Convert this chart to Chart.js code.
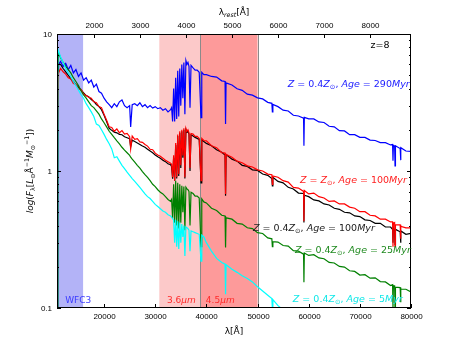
<!DOCTYPE html>
<html>
<head>
<meta charset="utf-8">
<script src="https://cdn.jsdelivr.net/npm/chart.js@4.4.1/dist/chart.umd.min.js"></script>
<style>
body { margin: 0; background: #fff; }
canvas { display: block; }
</style>
</head>
<body>
<canvas id="chart1" width="457" height="343"></canvas>
<script>
'use strict';

// observed wavelength grid [A], shared by all spectra
const wave = [
	10850, 10950, 11100,
	11500, 12000, 12500, 13000, 13500, 14000, 14500, 15000, 15500, 16000,
	16500, 17000, 17500, 18000, 18500, 19000, 19500, 20000, 20500, 21000,
	21500, 22000, 22500, 23000, 23500, 24000, 24500, 25000, 25200, 25500,
	26000, 26500, 27000, 27500, 28000, 28500, 29000, 29500, 30000, 30500,
	31000, 31500, 32000, 32500, 33000,
	33200, 33400, 33600, 33800, 34000, 34200, 34400, 34600, 34800, 35000,
	35200, 35400, 35600, 35800, 36000, 36200, 36400, 36600, 36800, 37000,
	37400, 37800, 38200, 38600, 38950, 39100, 39500,
	40000, 41000, 42000, 43000, 43650, 43750, 43850, 45000, 46000, 47000,
	48000, 49000, 50000, 51000, 52000, 52800, 52900, 53000, 54000, 55000,
	56000, 57000, 58000, 59000, 59070, 59150, 60000, 61000, 62000, 63000,
	64000, 65000, 66000, 67000, 68000, 69000, 70000, 71000, 72000, 73000,
	74000, 75000, 76000, 76400, 76480, 76560, 76800, 76880, 76960, 77880,
	77960, 78040, 79000, 80000
];

// Z = 0.4 Zsun, Age = 290 Myr
const flux_290 = [
	0.05, 2.0, 6.0,
	6.3, 5.8, 6.1, 5.5, 5.9, 5.2, 5.5, 4.9, 5.2, 4.6,
	4.8, 4.4, 4.6, 4.1, 4.3, 3.8, 3.7, 3.4, 3.2, 3.05,
	2.9, 3.1, 2.95, 3.2, 3.3, 3.0, 2.9, 3.0, 2.1, 3.05,
	3.1, 3.0, 3.15, 2.95, 3.05, 2.9, 3.0, 2.88, 2.95, 2.85,
	2.9, 2.78, 2.85, 2.7, 2.8,
	2.9, 2.3, 4.0, 2.3, 4.8, 2.4, 5.4, 2.5, 5.6, 3.0,
	6.0, 3.4, 6.2, 2.6, 6.4, 6.0, 6.2, 5.8, 2.9, 5.9,
	5.65, 5.45, 5.45, 5.25, 2.45, 5.25, 5.05,
	5.05, 4.9, 4.85, 4.55, 4.5, 2.2, 4.4, 4.25, 3.98, 3.88,
	3.64, 3.58, 3.42, 3.36, 3.17, 3.12, 2.7, 3.06, 2.95, 2.78,
	2.74, 2.55, 2.52, 2.43, 1.53, 2.46, 2.4, 2.4, 2.28, 2.26,
	2.12, 2.1, 1.97, 1.96, 1.84, 1.84, 1.76, 1.76, 1.68, 1.67,
	1.61, 1.61, 1.55, 1.56, 1.19, 1.54, 1.52, 1.09, 1.53, 1.46,
	1.2, 1.48, 1.4, 1.39
];

// Z = Zsun, Age = 100 Myr
const flux_sun_100 = [
	0.05, 1.9, 5.2,
	5.6, 5.3, 5.1, 4.8, 4.7, 4.35, 4.3, 3.95, 3.95, 3.65,
	3.55, 3.45, 3.4, 3.2, 3.15, 2.95, 2.9, 2.6, 2.35, 2.1,
	2.08, 1.95, 2.03, 1.9, 1.97, 1.86, 1.88, 1.78, 1.45, 1.8,
	1.7, 1.72, 1.63, 1.62, 1.56, 1.52, 1.44, 1.43, 1.35, 1.31,
	1.28, 1.24, 1.2, 1.17, 1.14,
	1.12, 0.9, 1.3, 0.85, 1.6, 0.9, 1.85, 0.95, 1.95, 1.1,
	2.0, 1.3, 2.05, 0.9, 2.05, 1.95, 2.0, 1.9, 1.05, 1.88,
	1.86, 1.79, 1.79, 1.73, 0.85, 1.73, 1.67,
	1.66, 1.53, 1.48, 1.36, 1.35, 0.68, 1.32, 1.26, 1.18, 1.15,
	1.09, 1.07, 1.02, 1.0, 0.95, 0.94, 0.8, 0.92, 0.9, 0.85,
	0.83, 0.76, 0.75, 0.71, 0.43, 0.72, 0.68, 0.69, 0.65, 0.635,
	0.6, 0.605, 0.575, 0.575, 0.545, 0.535, 0.505, 0.505, 0.475, 0.47,
	0.445, 0.445, 0.425, 0.425, 0.28, 0.415, 0.42, 0.28, 0.405, 0.405,
	0.32, 0.395, 0.385, 0.385
];

// Z = 0.4 Zsun, Age = 100 Myr
const flux_100 = [
	0.05, 3.0, 6.0,
	6.0, 5.6, 5.3, 5.0, 4.7, 4.5, 4.25, 4.1, 3.9, 3.72,
	3.55, 3.48, 3.32, 3.22, 3.05, 2.95, 2.8, 2.55, 2.3, 2.05,
	1.98, 1.92, 1.9, 1.85, 1.84, 1.78, 1.75, 1.72, 1.5, 1.68,
	1.64, 1.6, 1.56, 1.52, 1.49, 1.44, 1.4, 1.36, 1.31, 1.27,
	1.24, 1.2, 1.17, 1.13, 1.11,
	1.08, 0.88, 1.25, 0.85, 1.55, 0.88, 1.8, 0.92, 1.9, 1.05,
	1.95, 1.25, 2.0, 0.88, 2.0, 1.92, 1.95, 1.86, 1.0, 1.84,
	1.8, 1.76, 1.73, 1.7, 0.82, 1.68, 1.64,
	1.59, 1.53, 1.43, 1.37, 1.31, 0.66, 1.32, 1.22, 1.18, 1.1,
	1.08, 1.02, 1.01, 0.95, 0.93, 0.88, 0.78, 0.9, 0.84, 0.82,
	0.76, 0.74, 0.69, 0.685, 0.42, 0.665, 0.65, 0.615, 0.605, 0.575,
	0.565, 0.535, 0.525, 0.5, 0.495, 0.47, 0.465, 0.44, 0.435, 0.415,
	0.415, 0.39, 0.39, 0.375, 0.3, 0.385, 0.37, 0.29, 0.375, 0.36,
	0.3, 0.365, 0.345, 0.35
];

// Z = 0.4 Zsun, Age = 25 Myr
const flux_25 = [
	0.05, 5.0, 7.3,
	6.7, 6.2, 5.8, 5.5, 5.2, 4.8, 4.5, 4.2, 3.85, 3.6,
	3.4, 3.2, 3.0, 2.9, 2.75, 2.6, 2.4, 2.25, 2.1, 1.95,
	1.85, 1.75, 1.66, 1.58, 1.49, 1.42, 1.36, 1.3, 1.26, 1.22,
	1.16, 1.1, 1.05, 0.99, 0.94, 0.9, 0.85, 0.8, 0.77, 0.73,
	0.7, 0.68, 0.65, 0.62, 0.6,
	0.62, 0.45, 0.8, 0.42, 0.85, 0.4, 0.82, 0.38, 0.8, 0.42,
	0.78, 0.5, 0.77, 0.37, 0.76, 0.74, 0.73, 0.71, 0.4, 0.7,
	0.685, 0.655, 0.655, 0.635, 0.28, 0.625, 0.595,
	0.585, 0.535, 0.515, 0.475, 0.47, 0.277, 0.455, 0.445, 0.415, 0.41,
	0.385, 0.38, 0.355, 0.35, 0.325, 0.32, 0.28, 0.305, 0.303, 0.286,
	0.283, 0.262, 0.26, 0.247, 0.154, 0.252, 0.242, 0.245, 0.232, 0.229,
	0.215, 0.213, 0.201, 0.199, 0.187, 0.185, 0.174, 0.175, 0.165, 0.166,
	0.156, 0.155, 0.146, 0.148, 0.1, 0.145, 0.145, 0.095, 0.142, 0.141,
	0.11, 0.137, 0.137, 0.131
];

// Z = 0.4 Zsun, Age = 5 Myr
const flux_5 = [
	0.05, 7.8, 7.5,
	6.8, 6.2, 5.6, 5.2, 4.9, 4.5, 4.2, 3.9, 3.6, 3.4,
	3.1, 2.9, 2.7, 2.5, 2.2, 2.15, 2.0, 1.85, 1.7, 1.58,
	1.45, 1.25, 1.27, 1.18, 1.1, 1.04, 0.98, 0.93, 0.91, 0.88,
	0.84, 0.8, 0.76, 0.72, 0.68, 0.65, 0.63, 0.6, 0.57, 0.55,
	0.53, 0.51, 0.5, 0.48, 0.47,
	0.46, 0.45, 0.44, 0.3, 0.44, 0.28, 0.43, 0.27, 0.42, 0.3,
	0.41, 0.33, 0.4, 0.24, 0.39, 0.385, 0.38, 0.37, 0.26, 0.365,
	0.36, 0.355, 0.35, 0.345, 0.22, 0.34, 0.33,
	0.3, 0.26, 0.23, 0.215, 0.209, 0.126, 0.207, 0.192, 0.182, 0.172,
	0.164, 0.155, 0.143, 0.133, 0.124, 0.117, 0.1, 0.115, 0.104, 0.097,
	0.09, 0.085, 0.08, 0.076, 0.05, 0.075, 0.072, 0.068, 0.065, 0.062,
	0.059, 0.056, 0.054, 0.052, 0.05, 0.048, 0.046, 0.044, 0.042, 0.041,
	0.04, 0.039, 0.038, 0.038, 0.03, 0.038, 0.037, 0.03, 0.037, 0.036,
	0.03, 0.036, 0.035, 0.034
];

const redshift = 8;
const x_ticks = [20000, 30000, 40000, 50000, 60000, 70000, 80000];
const rest_ticks = [2000, 3000, 4000, 5000, 6000, 7000, 8000];
const y_ticks = [0.1, 1, 10];
const y_tick_labels = ['0.1', '1', '10'];

// filter bands (observed wavelength)
const bands = [[10800, 15900], [30800, 38800], [38800, 50000]];
const band_names = ['WFC3', '3.6', '4.5'];

const font = '"DejaVu Sans", sans-serif';
const tick_font = '"Liberation Sans", Arial, sans-serif';

const toPoints = (flux) => wave.map((w, i) => ({ x: w, y: flux[i] }));

// text made of pieces: it = italic, sub / sup = small shifted text
const measureRich = (ctx, parts, size) => {
	let w = 0;
	parts.forEach(p => {
		const s = (p.sub || p.sup) ? size * 0.7 : size;
		ctx.font = (p.it ? 'italic ' : '') + s + 'px ' + font;
		w += ctx.measureText(p.t).width;
	});
	return w;
};

const drawRich = (ctx, parts, x, y, size) => {
	let cx = x;
	parts.forEach(p => {
		const s = (p.sub || p.sup) ? size * 0.7 : size;
		ctx.font = (p.it ? 'italic ' : '') + s + 'px ' + font;
		let dy = 0;
		if (p.sub) dy = size * 0.25;
		if (p.sup) dy = -size * 0.4;
		ctx.fillText(p.t, cx, y + dy);
		cx += ctx.measureText(p.t).width;
	});
};

const modelLabel = (zpart, age) => [
	{ t: 'Z', it: true }, { t: ' = ' + zpart }, { t: 'Z', it: true }, { t: '\u2299', sub: true },
	{ t: ', ' }, { t: 'Age', it: true }, { t: ' = ' + age }, { t: 'Myr', it: true }
];

const labels = [
	{ parts: modelLabel('0.4', '290'), x: 55900, y: 4.1, color: '#2020ff' },
	{ parts: modelLabel('', '100'), x: 58300, y: 0.817, color: '#ff2020' },
	{ parts: modelLabel('0.4', '100'), x: 49100, y: 0.365, color: '#202020' },
	{ parts: modelLabel('0.4', '25'), x: 57300, y: 0.252, color: '#208a20' },
	{ parts: modelLabel('0.4', '5'), x: 56900, y: 0.1107, color: '#10e8e8' }
];

const bandsPlugin = {
	id: 'bands',
	beforeDatasetsDraw(chart) {
		const { ctx, chartArea: a, scales } = chart;
		const colors = ['#b3b3f7', '#fcc9c9', '#fd9a9a'];
		ctx.save();
		bands.forEach((b, i) => {
			const x0 = scales.x.getPixelForValue(b[0]);
			const x1 = scales.x.getPixelForValue(b[1]);
			ctx.fillStyle = colors[i];
			ctx.fillRect(x0, a.top, x1 - x0, a.bottom - a.top);
		});
		ctx.strokeStyle = '#8a8a8a';
		ctx.lineWidth = 1;
		[bands[2][0], bands[2][1]].forEach(v => {
			const px = Math.round(scales.x.getPixelForValue(v)) + 0.5;
			ctx.beginPath();
			ctx.moveTo(px, a.top);
			ctx.lineTo(px, a.bottom);
			ctx.stroke();
		});
		ctx.restore();
	}
};

const axesPlugin = {
	id: 'axes',
	afterDraw(chart) {
		const { ctx, chartArea: a, scales } = chart;
		const line = (x0, y0, x1, y1) => {
			ctx.beginPath();
			ctx.moveTo(x0, y0);
			ctx.lineTo(x1, y1);
			ctx.stroke();
		};
		ctx.save();
		ctx.strokeStyle = '#000';
		ctx.fillStyle = '#000';
		ctx.lineWidth = 1;
		ctx.strokeRect(a.left + 0.5, a.top + 0.5, a.right - a.left - 1, a.bottom - a.top - 1);

		ctx.font = '8px ' + tick_font;
		ctx.textAlign = 'center';
		ctx.textBaseline = 'alphabetic';
		x_ticks.forEach(v => {
			const px = Math.round(scales.x.getPixelForValue(v)) + 0.5;
			line(px, a.bottom, px, a.bottom - 4);
			ctx.fillText(String(v), px, a.bottom + 11);
		});
		rest_ticks.forEach(v => {
			const px = Math.round(scales.xr.getPixelForValue(v)) + 0.5;
			line(px, a.top, px, a.top + 4);
			ctx.fillText(String(v), px, a.top - 6);
		});

		ctx.textAlign = 'right';
		ctx.textBaseline = 'middle';
		y_ticks.forEach((v, i) => {
			const py = Math.round(scales.y.getPixelForValue(v)) + 0.5;
			line(a.left, py, a.left + 4, py);
			line(a.right, py, a.right - 4, py);
			ctx.fillText(y_tick_labels[i], a.left - 5, py);
		});
		[0.1, 1].forEach(d => {
			for (let k = 2; k < 10; k++) {
				const py = Math.round(scales.y.getPixelForValue(d * k)) + 0.5;
				line(a.left, py, a.left + 2, py);
				line(a.right, py, a.right - 2, py);
			}
		});

		// axis titles
		ctx.textAlign = 'left';
		ctx.textBaseline = 'alphabetic';
		const cx = (a.left + a.right) / 2;
		const bottomTitle = [{ t: '\u03bb[\u00c5]' }];
		drawRich(ctx, bottomTitle, cx - measureRich(ctx, bottomTitle, 9) / 2, a.bottom + 26, 9);
		const topTitle = [{ t: '\u03bb' }, { t: 'rest', it: true, sub: true }, { t: '[\u00c5]' }];
		drawRich(ctx, topTitle, cx - measureRich(ctx, topTitle, 9) / 2, a.top - 19, 9);

		const yTitle = [
			{ t: 'log', it: true }, { t: '(' }, { t: 'F', it: true }, { t: '\u03bb', sub: true },
			{ t: '[' }, { t: 'L', it: true }, { t: '\u2299', sub: true }, { t: '\u00c5' }, { t: '\u22121', sup: true },
			{ t: 'M', it: true }, { t: '\u2299', sub: true }, { t: '\u22121', sup: true }, { t: '])' }
		];
		ctx.save();
		ctx.translate(33, (a.top + a.bottom) / 2);
		ctx.rotate(-Math.PI / 2);
		drawRich(ctx, yTitle, -measureRich(ctx, yTitle, 9) / 2, 0, 9);
		ctx.restore();

		// model labels
		labels.forEach(l => {
			ctx.fillStyle = l.color;
			drawRich(ctx, l.parts, scales.x.getPixelForValue(l.x), scales.y.getPixelForValue(l.y), 9.5);
		});

		ctx.fillStyle = '#000';
		drawRich(ctx, [{ t: 'z=' + redshift }], scales.x.getPixelForValue(72100), scales.y.getPixelForValue(7.9), 9.5);

		// band names
		const by = scales.y.getPixelForValue(0.109);
		ctx.fillStyle = '#3a3aff';
		drawRich(ctx, [{ t: band_names[0] }], scales.x.getPixelForValue(12400), by, 9);
		ctx.fillStyle = '#ff2a2a';
		drawRich(ctx, [{ t: band_names[1] }, { t: '\u03bcm', it: true }], scales.x.getPixelForValue(32300), by, 9);
		drawRich(ctx, [{ t: band_names[2] }, { t: '\u03bcm', it: true }], scales.x.getPixelForValue(39900), by, 9);
		ctx.restore();
	}
};

const series = [
	{ data: flux_5, color: '#00ffff' },
	{ data: flux_25, color: '#008000' },
	{ data: flux_sun_100, color: '#ff0000' },
	{ data: flux_100, color: '#000000' },
	{ data: flux_290, color: '#0000ff' }
];

const chart1 = document.querySelector('#chart1').getContext('2d');
if (chart1) {
	var chart1Canvas = new Chart(chart1, {
		type: 'line',
		data: {
			datasets: series.map(s => ({
				data: toPoints(s.data),
				borderColor: s.color,
				backgroundColor: s.color,
				borderWidth: 1.2,
				pointRadius: 0,
				tension: 0,
				fill: false
			}))
		},
		options: {
			responsive: false,
			animation: false,
			layout: { padding: { left: 57, right: 46, top: 34, bottom: 35 } },
			plugins: {
				legend: { display: false },
				tooltip: { enabled: false }
			},
			scales: {
				x: { type: 'linear', min: 10800, max: 80000, display: false },
				xr: { type: 'linear', axis: 'x', position: 'top', min: 10800 / (1 + redshift), max: 80000 / (1 + redshift), display: false },
				y: { type: 'logarithmic', min: 0.1, max: 10, display: false }
			}
		},
		plugins: [bandsPlugin, axesPlugin]
	});
}
</script>
</body>
</html>
